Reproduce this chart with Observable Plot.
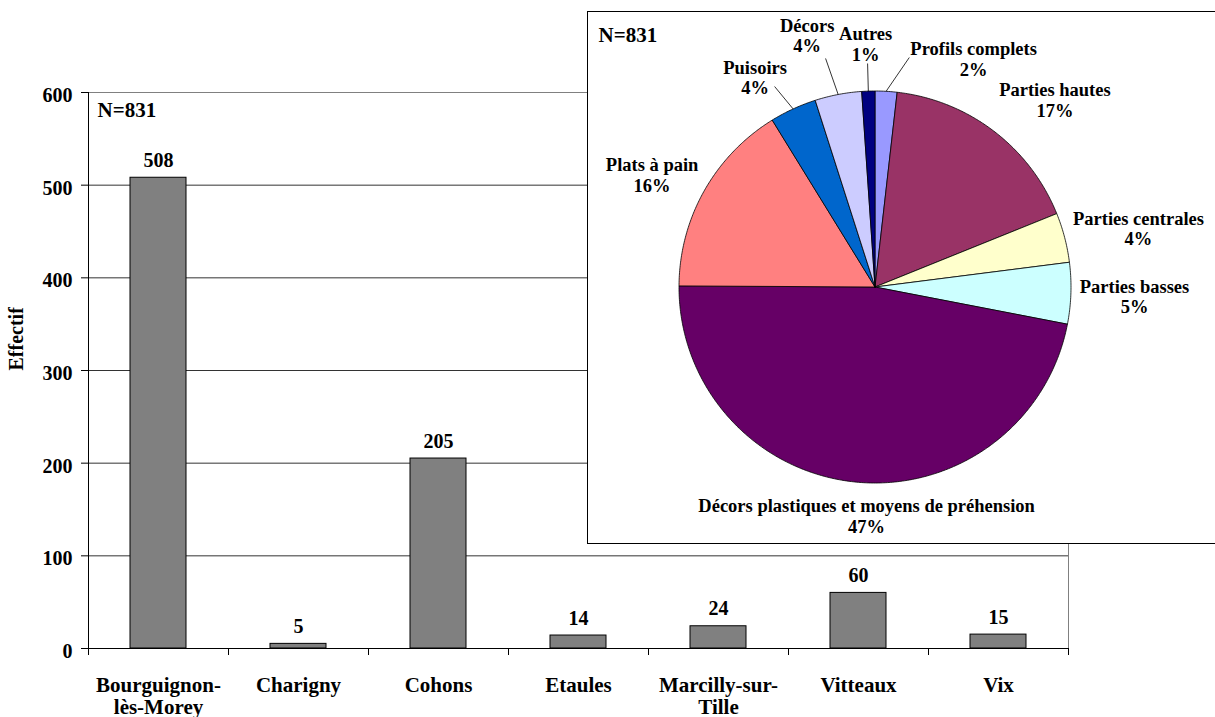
<!DOCTYPE html>
<html><head><meta charset="utf-8">
<script src="https://cdn.jsdelivr.net/npm/d3@7"></script>
<script src="https://cdn.jsdelivr.net/npm/@observablehq/plot@0.6"></script>
<style>
html,body{margin:0;padding:0;background:#fff;overflow:hidden;}
#chart{position:relative;width:1215px;height:717px;overflow:hidden;}
#pie{position:absolute;left:587px;top:11px;width:640px;height:533px;box-sizing:border-box;border:1px solid #000;background:#fff;}
#pie svg, #bars svg{display:block;}
</style></head><body>
<div id="chart"><div id="bars"></div><div id="pie"></div></div>
<script>
// ---- Bar chart data ----
const sites = ["Bourguignon-lès-Morey","Charigny","Cohons","Etaules","Marcilly-sur-Tille","Vitteaux","Vix"];
const siteLabels = ["Bourguignon-\nlès-Morey","Charigny","Cohons","Etaules","Marcilly-sur-\nTille","Vitteaux","Vix"];
const siteCounts = [508,5,205,14,24,60,15];
const yTicks = [0,100,200,300,400,500,600];
const yTitle = "Effectif";

// ---- Pie chart data ----
const pieCategories = ["Profils complets","Parties hautes","Parties centrales","Parties basses","Décors plastiques et moyens de préhension","Plats à pain","Puisoirs","Décors","Autres"];
const pieCounts = [15,142,34,42,391,134,32,32,9];
const pieColors = ["#9999FF","#993366","#FFFFCC","#CCFFFF","#660066","#FF8080","#0066CC","#CCCCFF","#000080"];

// ---- Pie label layout (polar: degrees clockwise from top, radius factor) ----
const labelPlacement = [[23.4,1.267],[43.9,1.324],[77.5,1.377],[92.1,1.325],[182.1,1.168],[296.7,1.273],[330.2,1.231],[344.9,1.329],[357.8,1.240]];
const leaderEnds = [[8.5,1.184],null,null,null,null,null,[333.4,1.144],[347.8,1.193],[358.1,1.141]];

const font = '"Liberation Serif","Times New Roman",serif';

// ---------- Bar chart ----------
const W = 1215, H = 717, mL = 88, mR = 147, mT = 92, mB = 69;
const step = (W - mL - mR) / sites.length;
const N = d3.sum(siteCounts);
const barData = sites.map((s, i) => ({site: s, n: siteCounts[i]}));
const labelOf = new Map(sites.map((s, i) => [s, siteLabels[i]]));

const bars = Plot.plot({
  width: W, height: H,
  marginLeft: mL, marginRight: mR, marginTop: mT, marginBottom: mB,
  style: {fontFamily: font, fontWeight: "bold", background: "white", color: "black", overflow: "visible"},
  x: {domain: sites, paddingInner: 0.6, paddingOuter: 0.3, label: null},
  y: {domain: [0, 600], label: null},
  marks: [
    Plot.frame({stroke: "#808080"}),
    Plot.ruleY(yTicks.filter(d => d > 0 && d < 600), {stroke: "#333", strokeWidth: 1}),
    Plot.barY(barData, {x: "site", y: "n", fill: "#808080", stroke: "#000", strokeWidth: 1}),
    Plot.text(barData, {x: "site", y: "n", text: d => String(d.n), lineAnchor: "bottom", dy: -11, fontSize: 20}),
    Plot.axisY({ticks: yTicks, tickSize: 7, tickFormat: () => "", stroke: "#000"}),
    Plot.axisY({ticks: yTicks, tickSize: 0, tickPadding: 16, dy: 3, fontSize: 20, label: null}),
    Plot.axisX(sites, {tickSize: 7, tickFormat: () => "", dx: step / 2, stroke: "#000"}),
    Plot.axisX([sites[0]], {tickSize: 7, tickFormat: () => "", dx: -step / 2, stroke: "#000"}),
    Plot.axisX(sites, {tickSize: 0, tickPadding: 27, tickFormat: d => labelOf.get(d), fontSize: 21, lineHeight: 1.08, label: null}),
    Plot.ruleX([sites[0]], {dx: -step / 2, stroke: "#000"}),
    Plot.ruleY([0], {stroke: "#000"}),
    Plot.text([yTitle], {frameAnchor: "left", dx: -72, rotate: -90, text: d => d, fontSize: 20}),
    Plot.text([`N=${N}`], {frameAnchor: "top-left", dx: 9, dy: 10, textAnchor: "start", lineAnchor: "top", text: d => d, fontSize: 21})
  ]
});
document.getElementById("bars").append(bars);

// ---------- Pie chart ----------
const PW = 626, PH = 531, pcx = 286.5, pcy = 274.5, pr = 196;
const total = d3.sum(pieCounts);
let cum = 0;
const slices = pieCategories.map((name, i) => {
  const a0 = cum / total * 360; cum += pieCounts[i]; const a1 = cum / total * 360;
  return {name, a0, a1, mid: (a0 + a1) / 2, pct: Math.round(pieCounts[i] / total * 100), i};
});
const rad = a => a * Math.PI / 180;
const px = (a, r) => r * Math.sin(rad(a));
const py = (a, r) => -r * Math.cos(rad(a));
const slicePts = slices.flatMap(s => {
  const n = Math.max(2, Math.ceil((s.a1 - s.a0) / 0.5));
  const pts = [{name: s.name, x: 0, y: 0}];
  for (let k = 0; k <= n; k++) {
    const a = s.a0 + (s.a1 - s.a0) * k / n;
    pts.push({name: s.name, x: px(a, 1), y: py(a, 1)});
  }
  pts.push({name: s.name, x: 0, y: 0});
  return pts;
});
const leaders = slices.filter(s => leaderEnds[s.i]);

const pie = Plot.plot({
  width: PW, height: PH,
  marginLeft: 0, marginRight: 0, marginTop: 0, marginBottom: 0,
  style: {fontFamily: font, fontWeight: "bold", background: "white", color: "black", overflow: "visible"},
  x: {domain: [-pcx / pr, (PW - pcx) / pr], range: [0, PW], axis: null},
  y: {domain: [-pcy / pr, (PH - pcy) / pr], range: [0, PH], axis: null},
  color: {domain: pieCategories, range: pieColors},
  marks: [
    Plot.line(slicePts, {x: "x", y: "y", z: "name", fill: "name", stroke: "#000", strokeWidth: 0.8, curve: "linear", strokeLinejoin: "miter"}),
    Plot.link(leaders, {
      x1: s => px(s.mid, 1), y1: s => py(s.mid, 1),
      x2: s => px(leaderEnds[s.i][0], leaderEnds[s.i][1]), y2: s => py(leaderEnds[s.i][0], leaderEnds[s.i][1]),
      stroke: "#000", strokeWidth: 0.8
    }),
    Plot.text(slices, {
      x: s => px(labelPlacement[s.i][0], labelPlacement[s.i][1]),
      y: s => py(labelPlacement[s.i][0], labelPlacement[s.i][1]),
      text: s => `${s.name}\n${s.pct}%`,
      textAnchor: "middle", lineAnchor: "middle", lineHeight: 1.11, fontSize: 18.5
    }),
    Plot.text([`N=${total}`], {frameAnchor: "top-left", dx: 10, dy: 15, textAnchor: "start", lineAnchor: "top", text: d => d, fontSize: 21})
  ]
});
document.getElementById("pie").append(pie);
</script>
</body></html>
